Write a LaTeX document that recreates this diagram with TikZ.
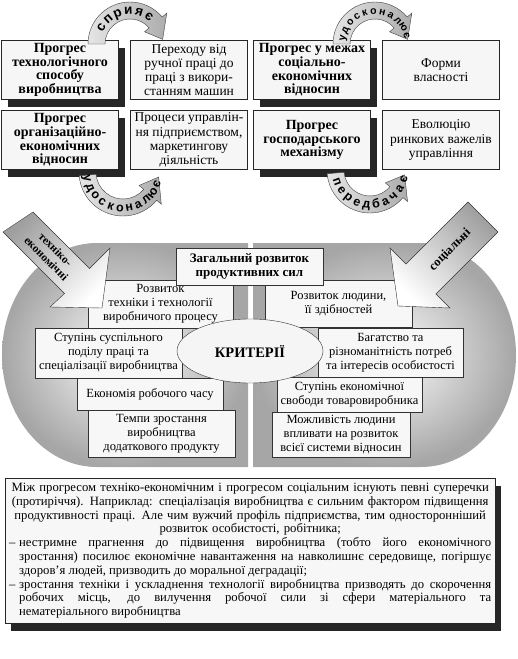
\documentclass[tikz,border=0pt]{standalone}
\usepackage{fontspec}
\setmainfont{Liberation Serif}
\newfontfamily\arcfont{Liberation Sans}
\usetikzlibrary{shapes.geometric,shadows}

\begin{document}
\begin{tikzpicture}[x=1pt, y=-1pt,
  boldbox/.style={draw=black!85, fill=gray!7, align=center, inner sep=1pt,
    minimum width=117, minimum height=59, font=\fontsize{14}{13.6}\selectfont\bfseries,
    drop shadow={shadow xshift=6pt, shadow yshift=-7pt, fill=black!85, opacity=1}},
  plainbox/.style={draw=black!85, fill=gray!7, align=center, inner sep=1pt,
    minimum width=117, minimum height=59, font=\fontsize{13.5}{14.2}\selectfont},
  critbox/.style={draw=black!80, fill=gray!6, align=center, inner sep=1pt,
    font=\fontsize{12.5}{14}\selectfont},
  band/.style={draw=black!75, left color=gray!20, right color=gray!65},
  bandletter/.style={font=\arcfont\bfseries\fontsize{13.5}{13.5}\selectfont, anchor=base, inner sep=0pt},
  smallletter/.style={bandletter, font=\arcfont\bfseries\fontsize{10.5}{10.5}\selectfont},
  bigarrow/.style={draw=black!80},
  half/.style={inner color=white, outer color=gray!70}
]
\useasboundingbox (0,0) rectangle (518,659);

% top boxes
\node[boldbox] (techprog) at (60,70) {Прогрес\\технологічного\\способу\\виробництва};
\node[plainbox] (manual) at (189,70) {Переходу від\\ручної праці до\\праці з викори-\\станням машин};
\node[boldbox] (orgprog) at (60,140) {Прогрес\\організаційно-\\економічних\\відносин};
\node[plainbox] (manage) at (189,140) {Процеси управлін-\\ня підприємством,\\маркетингову\\діяльність};
\node[boldbox] (socprog) at (312,70) {Прогрес у межах\\соціально-\\економічних\\відносин};
\node[plainbox] (owner) at (441,70) {Форми\\власності};
\node[boldbox] (mechprog) at (312,140) {Прогрес\\господарського\\механізму};
\node[plainbox] (levers) at (441,140) {Еволюцію\\ринкових важелів\\управління};

% circular arrows
\begin{scope}[shift={(130,44)}]
  \shade[band] (-180:42) arc[start angle=-180, end angle=-40, radius=42] -- (-40:48) -- (-8:33)
    -- (-40:19) -- (-40:25) arc[start angle=-40, end angle=-180, radius=25] -- cycle;
  \foreach \ch [count=\i, evaluate=\i as \a using 169-19*\i] in {с,п,р,и,я,є}
    \node[bandletter, rotate=\a-90] at (-\a:29.5) {\ch};
\end{scope}
\begin{scope}[shift={(375,44)}]
  \shade[band] (-180:42) arc[start angle=-180, end angle=-40, radius=42] -- (-40:48) -- (-8:33)
    -- (-40:19) -- (-40:25) arc[start angle=-40, end angle=-180, radius=25] -- cycle;
  \foreach \ch [count=\i, evaluate=\i as \a using 185.5-15.5*\i] in {у,д,о,с,к,о,н,а,л,ю,є}
    \node[smallletter, rotate=\a-90] at (-\a:30) {\ch};
\end{scope}
\begin{scope}[shift={(123,172)}]
  \shade[band] (-185:44) arc[start angle=-185, end angle=-320, radius=44] -- (-320:50) -- (-352:36)
    -- (-320:21) -- (-320:27) arc[start angle=-320, end angle=-185, radius=27] -- cycle;
  \foreach \ch [count=\i, evaluate=\i as \a using 175+15*\i] in {у,д,о,с,к,о,н,а,л,ю,є}
    \node[bandletter, font=\arcfont\bfseries\fontsize{12.5}{12.5}\selectfont, rotate=\a+90] at (-\a:39.5) {\ch};
\end{scope}
\begin{scope}[shift={(370,170)}]
  \shade[band] (-185:43) arc[start angle=-185, end angle=-320, radius=43] -- (-320:49) -- (-352:35)
    -- (-320:20) -- (-320:26) arc[start angle=-320, end angle=-185, radius=26] -- cycle;
  \foreach \ch [count=\i, evaluate=\i as \a using 184+16*\i] in {п,е,р,е,д,б,а,ч,а,є}
    \node[bandletter, font=\arcfont\bfseries\fontsize{12.5}{12.5}\selectfont, rotate=\a+90] at (-\a:38.5) {\ch};
\end{scope}

% two halves
\shade[half] (248,243) -- (97,243) arc[start angle=-90, end angle=-270, x radius=95, y radius=112] -- (248,467) -- cycle;
\shade[half] (253,243) -- (421,243) arc[start angle=-90, end angle=90, x radius=95, y radius=112] -- (253,467) -- cycle;

% criteria, left
\node[critbox, minimum width=145, minimum height=48] (techdev) at (160.5,304) {Розвиток\\техніки і технології\\виробничого процесу};
\node[critbox, minimum width=147, minimum height=50] (division) at (108.5,353) {Ступінь суспільного\\поділу праці та\\спеціалізації виробництва};
\node[critbox, minimum width=146, minimum height=32] (worktime) at (150,394) {Економія робочого часу};
\node[critbox, minimum width=147, minimum height=47] (surplus) at (161.5,433.5) {Темпи зростання\\виробництва\\додаткового продукту};
% criteria, right
\node[critbox, minimum width=147, minimum height=47] (human) at (338.5,303.5) {Розвиток людини,\\її здібностей};
\node[critbox, minimum width=145, minimum height=49] (needs) at (390.5,352.5) {Багатство та\\різноманітність потреб\\та інтересів особистості};
\node[critbox, minimum width=145, minimum height=35] (freedom) at (349.5,394.5) {Ступінь економічної\\свободи товаровиробника};
\node[critbox, minimum width=138, minimum height=45] (influence) at (341,434.5) {Можливість людини\\впливати на розвиток\\всієї системи відносин};

\node[critbox, font=\fontsize{13}{14}\selectfont\bfseries, minimum width=147, minimum height=37] (forces) at (249.5,266.5) {Загальний розвиток\\продуктивних сил};
\node[draw=black!80, fill=gray!8, ellipse, minimum width=146, minimum height=64, font=\fontsize{14.5}{15}\selectfont\bfseries] (crit) at (250,351) {КРИТЕРІЇ};

% big arrows
\shade[bigarrow, top color=gray!75, bottom color=white, shading angle=45] (3,232) -- (33,212) -- (89.5,268.5) -- (110,248) -- (102,308) -- (50,307) -- (64.5,293.5) -- cycle;
\shade[bigarrow, top color=gray!75, bottom color=white, shading angle=-45] (468,202) -- (498,232) -- (436,294) -- (450,308) -- (398,306) -- (390,248) -- (406,264) -- cycle;
\node[rotate=-45, align=center, inner sep=0pt, font=\fontsize{11.5}{13}\selectfont\bfseries] (techecon) at (51,254) {техніко-\\економічні};
\node[rotate=45, inner sep=0pt, font=\fontsize{12.5}{14}\selectfont\bfseries] (social) at (450,250) {соціальні};

% note
\node[draw=black!85, fill=gray!6, anchor=north west, text width=482, inner sep=4, minimum height=145,
  font=\fontsize{12.7}{13.8}\selectfont,
  drop shadow={shadow xshift=6pt, shadow yshift=-8pt, fill=black!85, opacity=1}] (note) at (5,478)
{\parindent=0pt
{\centering Між прогресом техніко-економічним і прогресом соціальним існують певні суперечки\\
(протиріччя). Наприклад: спеціалізація виробництва є сильним фактором підвищення\\
продуктивності праці. Але чим вужчий профіль підприємства, тим односторонніший\\
розвиток особистості, робітника;\par}
\leftskip=0pt\rightskip=0pt\parfillskip=0pt plus 1fil\spaceskip=0pt\xspaceskip=0pt
\hangindent=10pt\hangafter=1\makebox[10pt][l]{–}нестримне прагнення до підвищення виробництва (тобто його економічного\linebreak
зростання) посилює економічне навантаження на навколишнє середовище, погіршує\linebreak
здоров’я людей, призводить до моральної деградації;\par
\hangindent=10pt\hangafter=1\makebox[10pt][l]{–}зростання техніки і ускладнення технології виробництва призводять до скорочення\linebreak
робочих місць, до вилучення робочої сили зі сфери матеріального та\linebreak
нематеріального виробництва\par};

\end{tikzpicture}
\end{document}
